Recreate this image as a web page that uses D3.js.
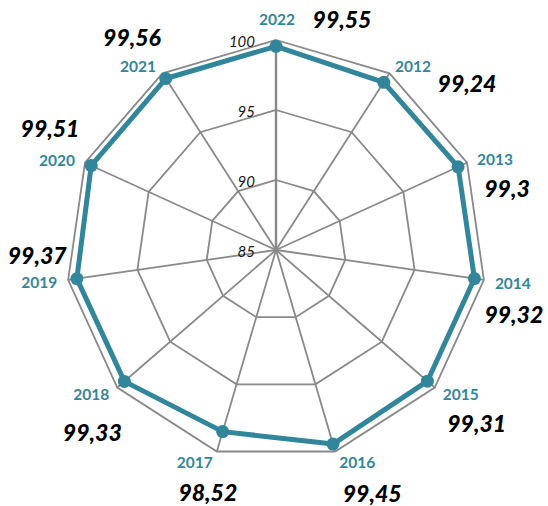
<!DOCTYPE html>
<html>
<head>
<meta charset="utf-8">
<script src="https://cdn.jsdelivr.net/npm/d3@7"></script>
<style>
  html, body { margin: 0; padding: 0; background: #fff; }
  svg { display: block; }
</style>
</head>
<body>
<svg id="chart" width="548" height="506"></svg>
<script>
// ---- data ----
const years = ["2022", "2012", "2013", "2014", "2015", "2016", "2017", "2018", "2019", "2020", "2021"];
const values = [99.55, 99.24, 99.3, 99.32, 99.31, 99.45, 98.52, 99.33, 99.37, 99.51, 99.56];
const valueLabels = ["99,55", "99,24", "99,3", "99,32", "99,31", "99,45", "98,52", "99,33", "99,37", "99,51", "99,56"];
const tickValues = [85, 90, 95, 100];
const tickLabels = ["85", "90", "95", "100"];

// ---- layout (label offsets from each outer vertex, px) ----
const yearOffsets = [[1,-21],[23.5,-7.5],[28,-4],[29,3],[26,6.5],[22,10.5],[-22,10.5],[-26,6.5],[-29,2],[-28,-3],[-24.5,-7.5]];
const valueOffsets = [[66,-21],[77.5,9.5],[40,25],[30,34],[42,35.5],[37,41.5],[-9,40.5],[-25,44.5],[-31,-25],[-35,-35],[-30.5,-36]];

const cx = 276, cy = 250, R = 210;
const teal = "#31869B";
const grid = "#898989";

const svg = d3.select("#chart");
const g = svg.append("g").attr("transform", `translate(${cx},${cy})`);

const r = d3.scaleLinear().domain([85, 100]).range([0, R]);
const angle = d3.scaleBand().domain(years).range([0, 2 * Math.PI]).paddingInner(0).paddingOuter(0);

const pt = (year, rad) => {
  const a = angle(year);
  return [rad * Math.sin(a), -rad * Math.cos(a)];
};

// grid rings
const ringLine = d3.lineRadial().angle(d => angle(d.y)).radius(d => r(d.v)).curve(d3.curveLinearClosed);
tickValues.filter(t => t > 85).forEach(t => {
  g.append("path")
    .attr("d", ringLine(years.map(y => ({ y, v: t }))))
    .attr("fill", "none")
    .attr("stroke", grid)
    .attr("stroke-width", 1.8);
});

// spokes
years.forEach(y => {
  const [x2, y2] = pt(y, r(100));
  g.append("line")
    .attr("x1", 0).attr("y1", 0)
    .attr("x2", x2).attr("y2", y2)
    .attr("stroke", grid)
    .attr("stroke-width", y === years[0] ? 2.4 : 1.8);
});

// tick labels
tickValues.forEach((t, i) => {
  g.append("text")
    .attr("x", -21)
    .attr("y", -r(t) + 1)
    .attr("text-anchor", "end")
    .attr("dominant-baseline", "central")
    .attr("font-family", "Lato, 'Open Sans', sans-serif")
    .attr("font-style", "italic")
    .attr("font-size", 15)
    .attr("fill", "#1a1a1a")
    .text(tickLabels[i]);
});

// data line
const dataLine = d3.lineRadial()
  .angle((d, i) => angle(years[i]))
  .radius(d => r(d))
  .curve(d3.curveLinearClosed);
g.append("path")
  .attr("d", dataLine(values))
  .attr("fill", "none")
  .attr("stroke", teal)
  .attr("stroke-width", 5)
  .attr("stroke-linejoin", "round");

// markers
g.selectAll("circle.m")
  .data(values)
  .join("circle")
  .attr("class", "m")
  .attr("cx", (d, i) => pt(years[i], r(d))[0])
  .attr("cy", (d, i) => pt(years[i], r(d))[1])
  .attr("r", 6.5)
  .attr("fill", teal);

// year labels
years.forEach((y, i) => {
  const [vx, vy] = pt(y, r(100));
  g.append("text")
    .attr("x", vx + yearOffsets[i][0])
    .attr("y", vy + yearOffsets[i][1])
    .attr("text-anchor", "middle")
    .attr("dominant-baseline", "central")
    .attr("font-family", "Lato, 'Open Sans', sans-serif")
    .attr("font-weight", "bold")
    .attr("font-size", 15.5)
    .attr("fill", teal)
    .text(y);
});

// value labels
years.forEach((y, i) => {
  const [vx, vy] = pt(y, r(100));
  g.append("text")
    .attr("x", vx + valueOffsets[i][0])
    .attr("y", vy + valueOffsets[i][1])
    .attr("text-anchor", "middle")
    .attr("dominant-baseline", "central")
    .attr("font-family", "Lato, 'Open Sans', sans-serif")
    .attr("font-weight", "900")
    .attr("font-style", "italic")
    .attr("font-size", 23)
    .attr("fill", "#000")
    .text(valueLabels[i]);
});
</script>
</body>
</html>
